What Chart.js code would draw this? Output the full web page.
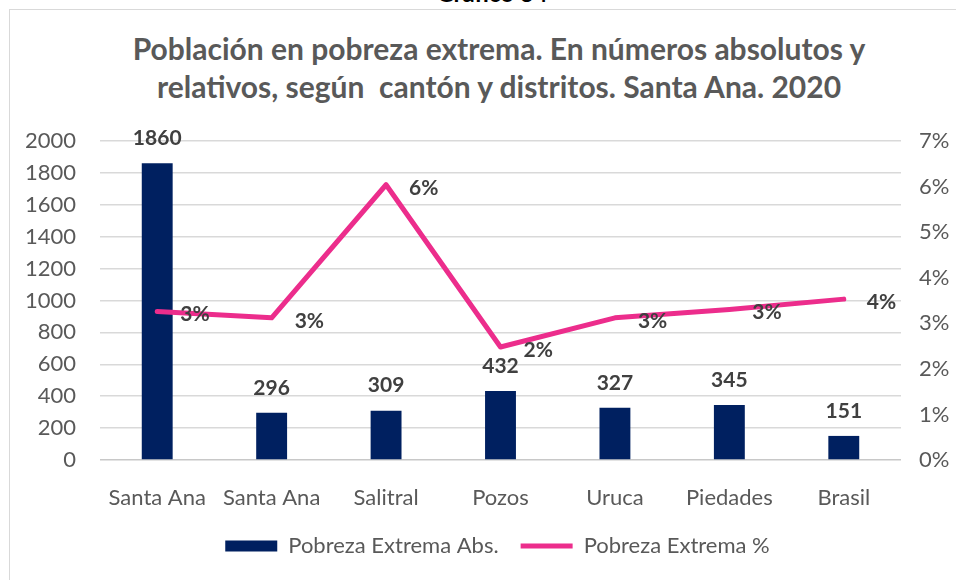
<!DOCTYPE html>
<html>
<head>
<meta charset="utf-8">
<script src="https://cdn.jsdelivr.net/npm/chart.js@4.4.1/dist/chart.umd.min.js"></script>
<style>
  html, body { margin: 0; padding: 0; background: #fff; overflow: hidden; }
  #wrap { position: relative; width: 956px; height: 580px; overflow: hidden; font-family: Lato, sans-serif; }
  #frame { position: absolute; left: 9px; top: 9px; width: 1000px; height: 640px; border: 1px solid #d9d9d9; box-sizing: border-box; }
  #sup { position: absolute; top: -21px; left: 0; width: 984px; text-align: center; font: bold 24px/1.2 Lato, sans-serif; color: #000; }
  #title { position: absolute; top: 29px; left: 0; width: 998px; text-align: center; font: bold 30px/38px Lato, sans-serif; color: #595959; }
  canvas { position: absolute; left: 0; top: 0; }
</style>
</head>
<body>
<div id="wrap">
  <div id="sup">Gráfico 34</div>
  <div id="frame"></div>
  <div id="title">Población en pobreza extrema. En números absolutos y<br>relativos, según&nbsp; cantón y distritos. Santa Ana. 2020</div>
  <canvas id="c" width="956" height="580"></canvas>
</div>
<script>
const categories = ['Santa Ana', 'Santa Ana', 'Salitral', 'Pozos', 'Uruca', 'Piedades', 'Brasil'];
const absValues = [1860, 296, 309, 432, 327, 345, 151];
const pctValues = [3.26, 3.12, 6.04, 2.48, 3.12, 3.30, 3.53];
const seriesNames = ['Pobreza Extrema Abs.', 'Pobreza Extrema %'];

const NAVY = '#002060';
const PINK = '#EC2D8C';
const TICK_FONT = { family: 'Lato', size: 22 };

// value labels: above bars, right of line points
const valueLabels = {
  id: 'valueLabels',
  afterDatasetsDraw(chart) {
    const { ctx } = chart;
    ctx.save();
    ctx.font = 'bold 21px Lato, sans-serif';
    ctx.fillStyle = '#404040';
    ctx.textBaseline = 'middle';
    ctx.textAlign = 'center';
    chart.getDatasetMeta(0).data.forEach((el, i) => {
      ctx.fillText(String(absValues[i]), el.x, el.y - 25);
    });
    ctx.textAlign = 'left';
    chart.getDatasetMeta(1).data.forEach((el, i) => {
      ctx.fillText(Math.round(pctValues[i]) + '%', el.x + 23, el.y + 3);
    });
    ctx.restore();
  }
};

// nudge the legend so it centres under the title rather than the padded box
const legendShift = {
  id: 'legendShift',
  afterLayout(chart) {
    if (chart.legend) { chart.legend.left += 12; chart.legend.right += 12; }
  }
};

new Chart(document.getElementById('c'), {
  data: {
    labels: categories,
    datasets: [
      {
        type: 'bar',
        label: seriesNames[0],
        data: absValues,
        backgroundColor: NAVY,
        borderWidth: 0,
        yAxisID: 'y',
        order: 1,
        barPercentage: 0.27,
        categoryPercentage: 1,
      },
      {
        type: 'line',
        label: seriesNames[1],
        data: pctValues,
        borderColor: PINK,
        backgroundColor: PINK,
        borderWidth: 5,
        borderCapStyle: 'round',
        borderJoinStyle: 'round',
        tension: 0,
        pointRadius: 0,
        yAxisID: 'y1',
        order: 0,
      }
    ]
  },
  options: {
    responsive: false,
    animation: false,
    layout: { padding: { left: 20, right: 5, top: 141, bottom: 13 } },
    plugins: {
      title: { display: false },
      tooltip: { enabled: false },
      legend: {
        position: 'bottom',
        labels: {
          usePointStyle: true,
          pointStyleWidth: 52,
          boxHeight: 11,
          padding: 22,
          color: '#595959',
          font: TICK_FONT,
          sort: (a, b) => a.datasetIndex - b.datasetIndex,
          generateLabels: chart => Chart.defaults.plugins.legend.labels.generateLabels(chart)
            .map(l => ({ ...l, pointStyle: l.datasetIndex === 0 ? 'rect' : 'line' })),
        }
      }
    },
    scales: {
      x: {
        grid: { display: false },
        border: { display: false },
        ticks: { color: '#595959', font: TICK_FONT, padding: 17, maxRotation: 0 },
        afterFit(s) { s.height = 53; },
      },
      y: {
        position: 'left',
        min: 0, max: 2000,
        ticks: { stepSize: 200, color: '#595959', font: TICK_FONT, padding: 24, callback: v => String(v) },
        grid: { color: ctx => ctx.index === 0 ? '#c8c8c8' : '#d9d9d9', lineWidth: 1.5, drawTicks: false },
        border: { display: false },
        afterFit(s) { s.width = 80; },
      },
      y1: {
        position: 'right',
        min: 0, max: 7,
        ticks: { stepSize: 1, color: '#595959', font: TICK_FONT, padding: 18, callback: v => v + '%' },
        grid: { display: false, drawTicks: false },
        border: { display: false },
        afterFit(s) { s.width = 50; },
      }
    }
  },
  plugins: [valueLabels, legendShift]
});
</script>
</body>
</html>
